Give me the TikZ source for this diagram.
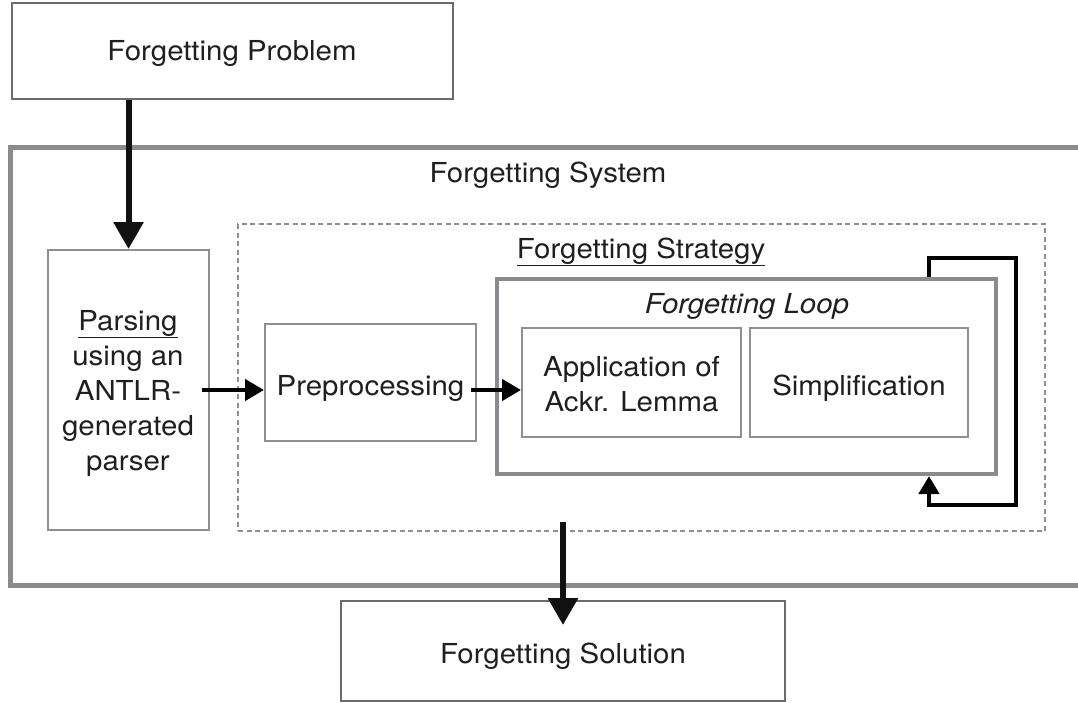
\documentclass[tikz,border=0pt]{standalone}
\usepackage{fontspec}
\setmainfont{TeX Gyre Heros}[FakeStretch=1.07]
\usetikzlibrary{arrows.meta}
\definecolor{boxgray}{HTML}{8D8F92}
\definecolor{outgray}{HTML}{898B8E}
\definecolor{darkgray}{HTML}{6B6C6E}
\definecolor{arrowblack}{HTML}{111111}
\tikzset{
  txt/.style={font=\fontsize{27.5}{35}\selectfont, text=black!88, inner sep=0pt, align=center},
  graybox/.style={draw=boxgray, line width=2pt, inner sep=0pt},
  darkbox/.style={draw=darkgray, line width=2pt, inner sep=0pt},
  bigarrow/.style={draw=arrowblack, line width=6pt, -{Triangle[width=29pt,length=27pt]}},
  smallarrow/.style={draw=black, line width=4.5pt, -{Triangle[width=21pt,length=19pt]}},
}
\begin{document}
\begin{tikzpicture}[x=1pt,y=-1pt]
\useasboundingbox (0,0) rectangle (1078,702);
% Forgetting Problem
\node[darkbox, minimum width=441pt, minimum height=96pt] (prob) at (232.5,51) {};
\node[txt, anchor=base] (probtxt) at (232,60) {Forgetting Problem};
% Forgetting System (outer, open on right)
\draw[draw=outgray, line width=5pt] (1078,147) -- (10,147) -- (10,585) -- (1078,585);
\node[txt, anchor=base] (systxt) at (548,182) {Forgetting System};
% Parsing
\node[graybox, minimum width=161pt, minimum height=280pt] (pars) at (128.5,390) {};
\node[txt] (parstxt) at (128,393) {\underline{Parsing}\\using an\\ANTLR-\\generated\\parser};
% Forgetting Strategy (dashed)
\node[draw=boxgray, line width=2pt, dash pattern=on 5pt off 3.5pt, inner sep=0pt, minimum width=807pt, minimum height=307pt] (strat) at (641.5,377.5) {};
\node[txt, anchor=base] (strattxt) at (641,258) {\underline{Forgetting Strategy}};
% Preprocessing
\node[graybox, minimum width=211pt, minimum height=117pt] (pre) at (370.5,382.5) {};
\node[txt, anchor=base] (pretxt) at (370.5,395) {Preprocessing};
% Forgetting Loop
\node[draw=outgray, line width=4pt, inner sep=0pt, minimum width=499pt, minimum height=195pt] (loop) at (746.5,376.5) {};
\node[txt, font=\fontsize{27.5}{35}\selectfont\itshape, anchor=base] (looptxt) at (747,313) {Forgetting Loop};
% Application
\node[graybox, minimum width=219pt, minimum height=109pt] (app) at (631.5,382.5) {};
\node[txt] (apptxt) at (631.5,384.5) {Application of\\Ackr. Lemma};
% Simplification
\node[graybox, minimum width=218pt, minimum height=109pt] (simp) at (859,382.5) {};
\node[txt, anchor=base] (simptxt) at (859,395) {Simplification};
% Forgetting Solution
\node[darkbox, minimum width=444pt, minimum height=100pt] (sol) at (563,651) {};
\node[txt, anchor=base] (soltxt) at (563,663) {Forgetting Solution};
% Arrows
\draw[bigarrow] (pars.north |- prob.south) -- (pars.north);
\draw[smallarrow] ([xshift=-8pt]pars.east) -- (pars.east -| pre.west);
\draw[smallarrow] ([xshift=-6pt]pre.east |- pars.east) -- (app.west |- pars.east);
\coordinate (fb) at (929,0);
\coordinate (fbr) at (1016,258);
\coordinate (fbb) at (1016,505);
\draw[smallarrow, -{Triangle[width=20pt,length=18pt]}, line join=miter] (fb |- loop.north) |- (fbr) -- (fbb) -| (fb |- loop.south);
\coordinate (botstart) at (563,522);
\draw[bigarrow] (botstart) -- ([yshift=-25pt]sol.north);
\end{tikzpicture}
\end{document}
